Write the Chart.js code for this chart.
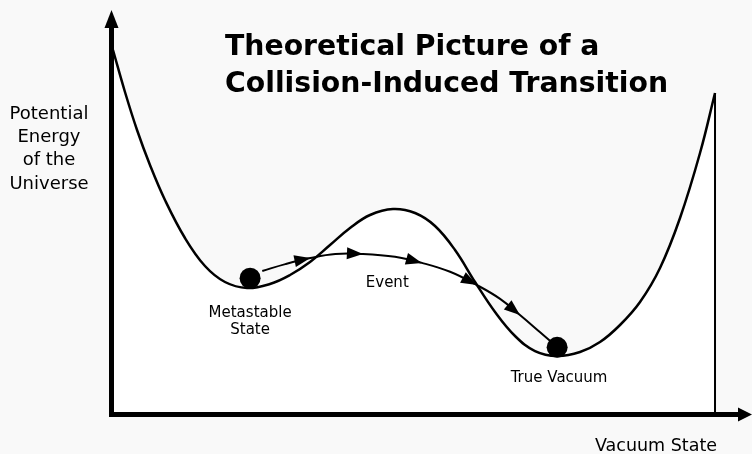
<!DOCTYPE html>
<html>
<head>
<meta charset="utf-8">
<script src="https://cdn.jsdelivr.net/npm/chart.js@4/dist/chart.umd.min.js"></script>
<style>
  html, body { margin: 0; padding: 0; background: #f9f9f9; }
  #wrap { width: 752px; height: 454px; position: relative; }
</style>
</head>
<body>
<div id="wrap"><canvas id="c" width="752" height="454"></canvas></div>
<script>
// ---- Data (arbitrary units: vacuum state 0..100, potential energy 0..100) ----
const potentialX = [0.31, 2.18, 4.06, 6.08, 8.42, 11.54, 14.66, 17.78, 21.22, 24.80, 27.93, 31.05, 34.17, 37.29, 40.41, 43.99, 47.43, 50.55, 53.67, 56.79, 59.91, 63.03, 66.15, 69.58, 73.17, 76.29, 79.41, 82.53, 85.65, 88.77, 91.89, 94.23];
const potentialY = [90.10, 79.70, 70.30, 61.63, 52.97, 43.56, 36.63, 32.67, 31.19, 32.18, 34.41, 37.62, 41.83, 46.04, 49.26, 50.74, 49.75, 46.53, 40.59, 32.67, 25.25, 19.31, 15.59, 14.36, 15.35, 17.82, 22.03, 27.72, 36.14, 48.51, 64.60, 79.46];

const pathX = [23.6, 27.2, 31.1, 35.0, 39.3, 44.3, 48.5, 52.9, 57.1, 60.7, 63.8, 66.9, 69.6];
const pathY = [35.4, 37.1, 38.6, 39.6, 39.6, 38.9, 37.4, 35.2, 31.9, 28.5, 24.5, 20.3, 16.6];
const arrowAt = [2, 4, 6, 8, 10];   // path points carrying an arrowhead

const statesX = [21.7, 69.6];        // metastable state, true vacuum
const statesY = [33.6, 16.5];

const titleLines = ['Theoretical Picture of a', 'Collision-Induced Transition'];
const yLabelLines = ['Potential', 'Energy', 'of the', 'Universe'];
const xLabel = 'Vacuum State';
const labelTexts = ['Metastable', 'State', 'Event', 'True Vacuum'];
const labelX = [21.7, 21.7, 43.1, 69.9];
const labelY = [24.1, 19.7, 31.4, 7.85];

// ---- Build datasets ----
const curve = potentialX.map((x, i) => ({ x, y: potentialY[i] }));
const wallX = potentialX[potentialX.length - 1];
const wall = [{ x: wallX, y: potentialY[potentialY.length - 1] }, { x: wallX, y: 0 }];
const path = pathX.map((x, i) => ({ x, y: pathY[i] }));
const states = statesX.map((x, i) => ({ x, y: statesY[i] }));

const FONT = '"DejaVu Sans", Verdana, sans-serif';

const decor = {
  id: 'decor',
  afterDatasetsDraw(chart) {
    const { ctx, scales: { x, y } } = chart;
    const x0 = x.getPixelForValue(0), y0 = y.getPixelForValue(0);
    const xEnd = x.getPixelForValue(100), yEnd = y.getPixelForValue(100);
    ctx.save();
    // axes
    ctx.fillStyle = '#000';
    ctx.strokeStyle = '#000';
    ctx.lineWidth = 5;
    ctx.lineCap = 'butt';
    ctx.beginPath();
    ctx.moveTo(x0 + 0.5, y0 + 2.5);
    ctx.lineTo(x0 + 0.5, yEnd + 14);
    ctx.moveTo(x0 - 2, y0 + 0.5);
    ctx.lineTo(xEnd - 10, y0 + 0.5);
    ctx.stroke();
    // arrowheads of axes
    ctx.beginPath();
    ctx.moveTo(x0 + 0.5, yEnd);
    ctx.lineTo(x0 + 0.5 - 7, yEnd + 18);
    ctx.lineTo(x0 + 0.5 + 7, yEnd + 18);
    ctx.closePath();
    ctx.fill();
    ctx.beginPath();
    ctx.moveTo(xEnd, y0 + 0.5);
    ctx.lineTo(xEnd - 14, y0 + 0.5 - 7);
    ctx.lineTo(xEnd - 14, y0 + 0.5 + 7);
    ctx.closePath();
    ctx.fill();

    // arrowheads along the path
    arrowAt.forEach(i => {
      const tx = x.getPixelForValue(pathX[i]), ty = y.getPixelForValue(pathY[i]);
      const px = x.getPixelForValue(pathX[i - 1]), py = y.getPixelForValue(pathY[i - 1]);
      const nx = x.getPixelForValue(pathX[i + 1]), ny = y.getPixelForValue(pathY[i + 1]);
      const a = Math.atan2(ny - py, nx - px);
      const L = 16, W = 6;
      ctx.beginPath();
      ctx.moveTo(tx, ty);
      ctx.lineTo(tx - L * Math.cos(a) + W * Math.sin(a), ty - L * Math.sin(a) - W * Math.cos(a));
      ctx.lineTo(tx - L * Math.cos(a) - W * Math.sin(a), ty - L * Math.sin(a) + W * Math.cos(a));
      ctx.closePath();
      ctx.fill();
    });

    // title
    ctx.font = 'bold 28.3px ' + FONT;
    ctx.textAlign = 'left';
    ctx.textBaseline = 'alphabetic';
    ctx.fillText(titleLines[0], 225, 55);
    ctx.fillText(titleLines[1], 225, 92);

    // y label
    ctx.font = '18px ' + FONT;
    ctx.textAlign = 'center';
    yLabelLines.forEach((t, i) => ctx.fillText(t, 49, 118.5 + i * 23.4));

    // x label
    ctx.font = '17.5px ' + FONT;
    ctx.fillText(xLabel, 656, 450.5);

    // point labels
    ctx.font = '15px ' + FONT;
    labelTexts.forEach((t, i) => {
      ctx.fillText(t, x.getPixelForValue(labelX[i]), y.getPixelForValue(labelY[i]));
    });
    ctx.restore();
  }
};

new Chart(document.getElementById('c'), {
  type: 'scatter',
  data: {
    datasets: [
      { data: states, pointRadius: 10.5, pointBackgroundColor: '#000', pointBorderWidth: 0, showLine: false, order: 0 },
      { data: path, showLine: true, borderColor: '#000', borderWidth: 2, pointRadius: 0, tension: 0.4, fill: false, order: 1 },
      { data: wall, showLine: true, borderColor: '#000', borderWidth: 2, pointRadius: 0, tension: 0, fill: false, order: 2 },
      { data: curve, showLine: true, borderColor: '#000', borderWidth: 2.5, pointRadius: 0, tension: 0.4, fill: 'origin', backgroundColor: '#ffffff', order: 3 }
    ]
  },
  options: {
    responsive: false,
    animation: false,
    events: [],
    layout: { autoPadding: false, padding: { left: 111, right: 0, top: 10, bottom: 40 } },
    plugins: { legend: { display: false }, tooltip: { enabled: false }, title: { display: false } },
    scales: {
      x: { type: 'linear', min: 0, max: 100, display: false },
      y: { type: 'linear', min: 0, max: 100, display: false }
    }
  },
  plugins: [decor]
});
</script>
</body>
</html>
